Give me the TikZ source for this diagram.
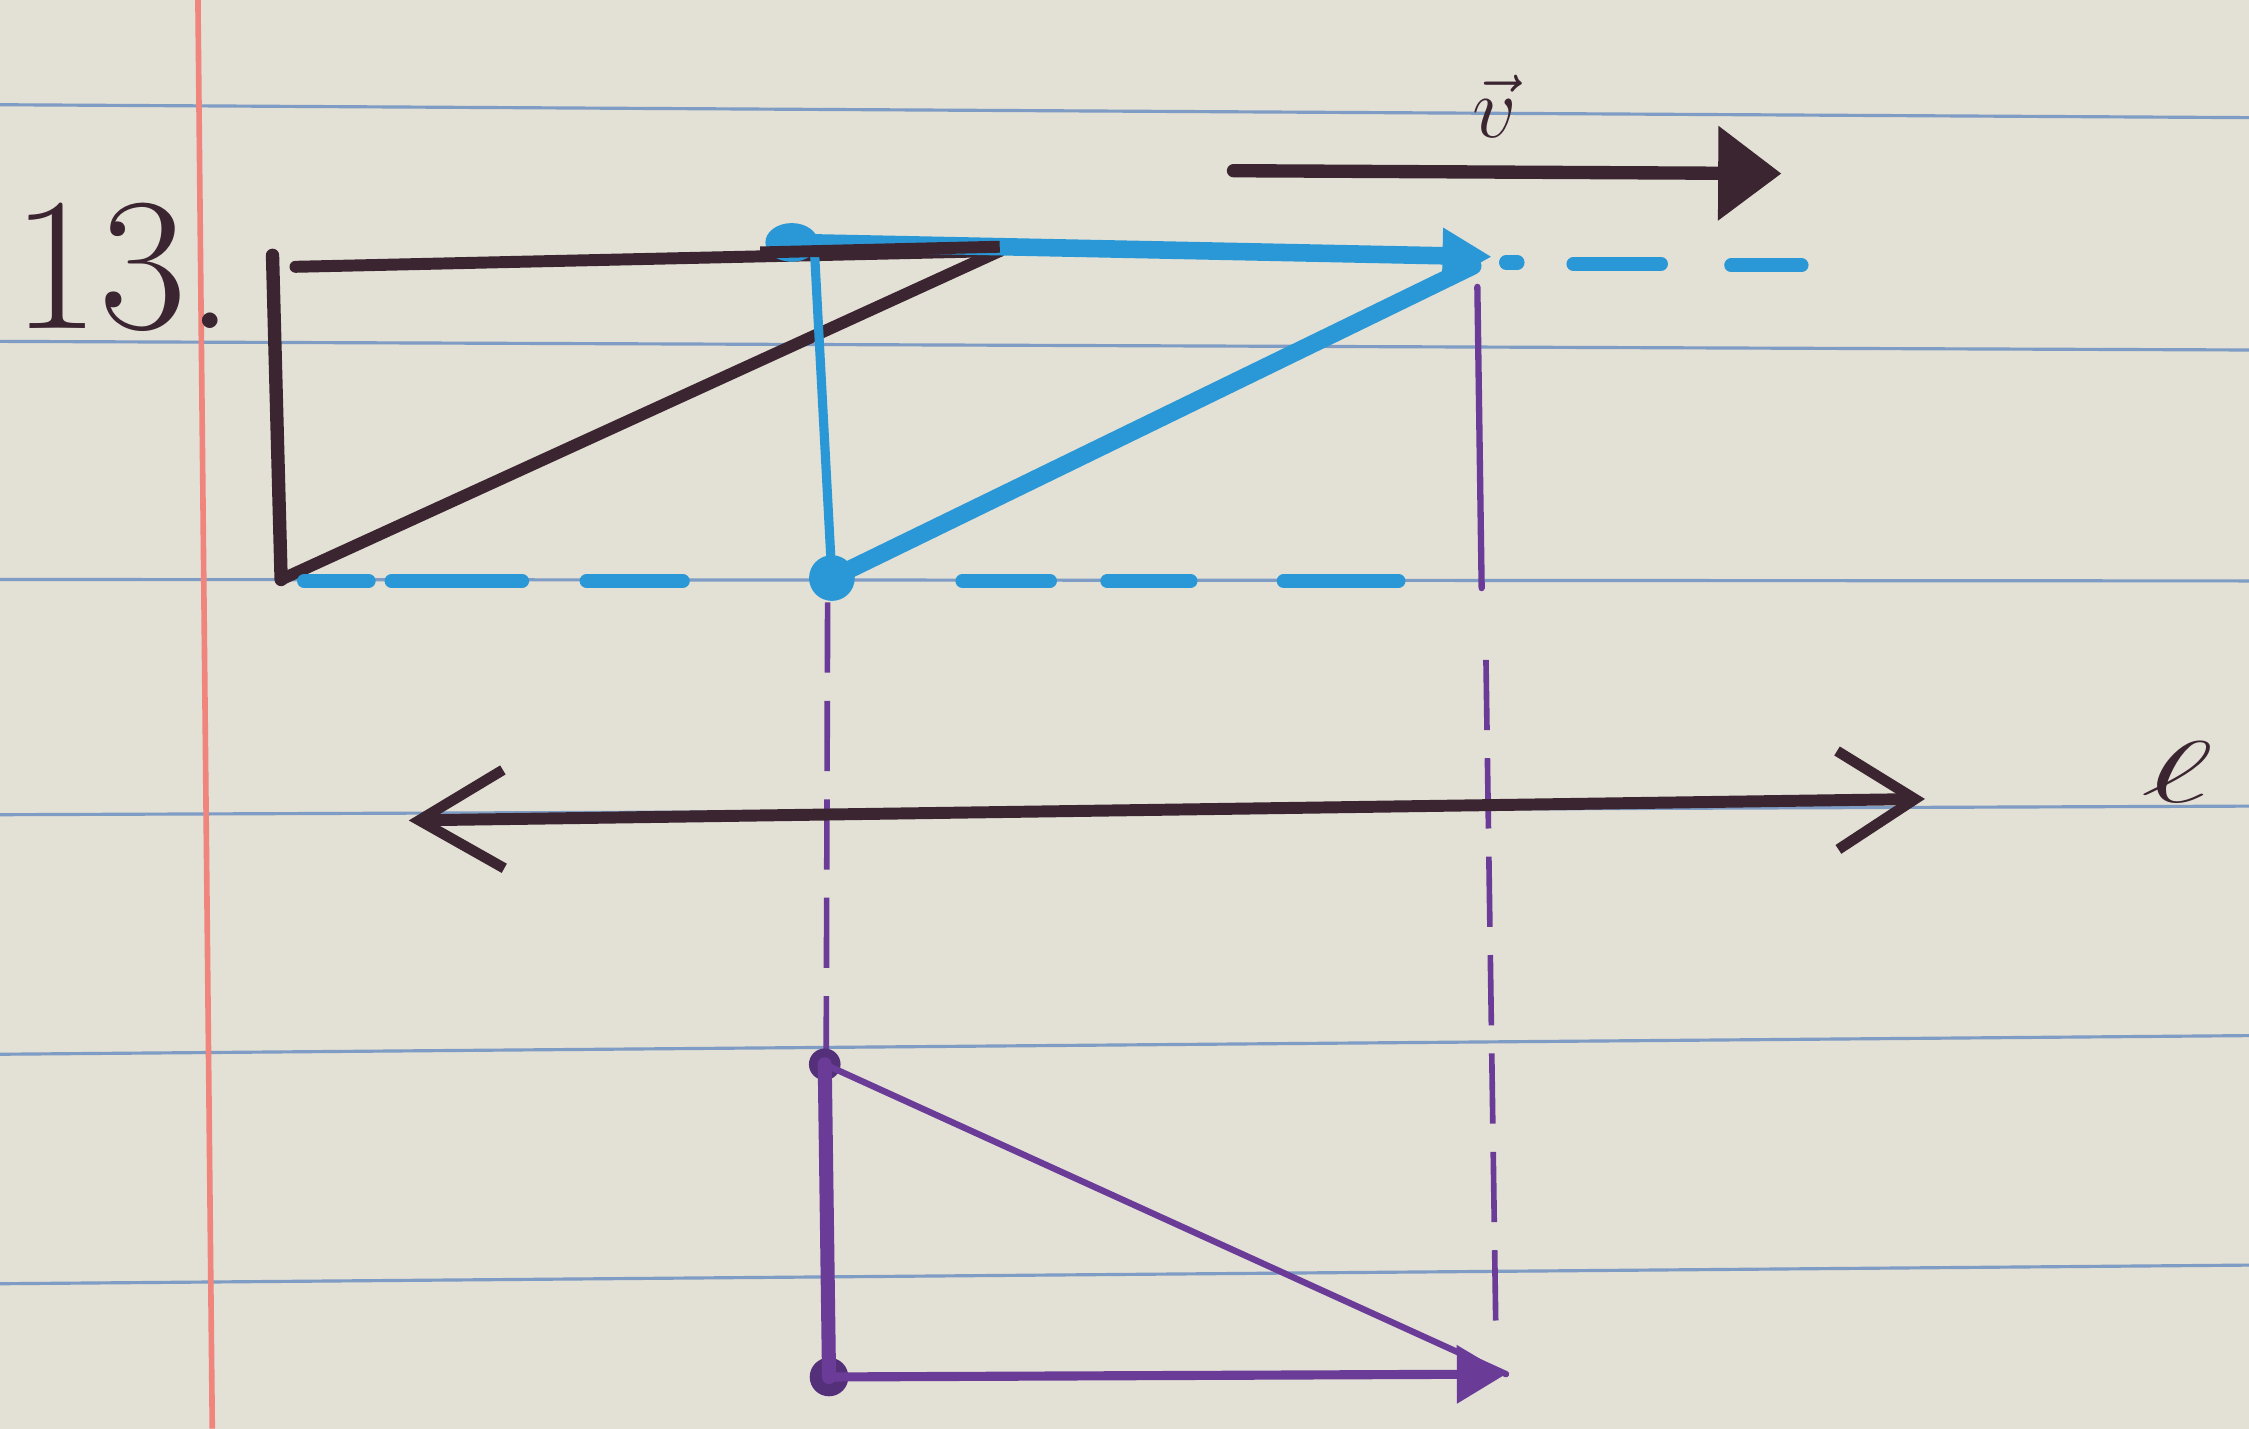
\documentclass[tikz,border=0pt]{standalone}
\usetikzlibrary{arrows.meta,shapes.geometric}
\usepackage{graphicx}
\definecolor{paper}{HTML}{E3E0D6}
\definecolor{rule}{HTML}{7E9CC4}
\definecolor{margin}{HTML}{F0857E}
\definecolor{ink}{HTML}{3B2530}
\definecolor{bluemk}{HTML}{2A98D6}
\definecolor{purp}{HTML}{6A3C98}
\tikzset{
  ruled/.style={rule, line width=0.9pt},
  inkline/.style={ink, line width=3.4pt, line cap=round},
  bluethick/.style={bluemk, line width=5pt, line cap=round},
  bluethin/.style={bluemk, line width=2.6pt, line cap=round},
  bluedash/.style={bluemk, line width=4pt, line cap=round},
  purpdash/.style={purp, line width=1.6pt, dash pattern=on 20pt off 8pt},
  purpthin/.style={purp, line width=1.8pt, line cap=round},
  purpthick/.style={purp, line width=4pt, line cap=round},
  dotb/.style={ellipse, fill=bluemk, inner sep=0pt, minimum width=15pt, minimum height=11pt},
  dotp/.style={circle, fill=purp!80!black, inner sep=0pt, minimum size=9pt},
  hand/.style={ink, inner sep=0pt}
}
\begin{document}
\begin{tikzpicture}[x=0.014343cm, y=-0.014343cm]
\fill[paper] (0,0) rectangle (1568,996);
\useasboundingbox (0,0) rectangle (1568,996);
% ruled lines
\draw[ruled] (0,73) -- (1568,82);
\draw[ruled] (0,238) -- (1568,244);
\draw[ruled] (0,404) -- (1568,405);
\draw[ruled] (0,568) -- (1568,562);
\draw[ruled] (0,735) -- (1568,722);
\draw[ruled] (0,895) -- (1568,882);
\draw[margin, line width=1.6pt] (138,0) -- (148,996);

% label 13.
\node[hand, font=\fontsize{54}{60}\selectfont] (num) at (86,186) {13.};

% black triangle
\coordinate (A) at (190,178);
\coordinate (A2) at (206,186);
\coordinate (B) at (196,404);
\coordinate (C) at (697,175);
\draw[inkline, line width=3.8pt] (A) -- (B);
\draw[inkline] (A2) -- (C);
\draw[inkline] (B) -- (C);

% blue dashed lines (hand-drawn dashes)
\foreach \a/\b in {212/257, 273/364, 409/476, 671/732, 772/830, 895/975}
  \draw[bluedash] (\a,405) -- (\b,405);
\draw[bluedash] (1050,183) -- (1058,183);
\draw[bluedash] (1097,184) -- (1158,184);
\draw[bluedash] (1207,185) -- (1256,185);

% purple projection lines
\coordinate (F1) at (1030,200);
\coordinate (F2) at (1033,410);
\coordinate (F3) at (1036,460);
\coordinate (F4) at (1043,935);
\draw[purpthin] (F1) -- (F2);
\draw[purpdash] (F3) -- (F4);
\coordinate (G1) at (577,420);
\coordinate (G2) at (576,738);
\draw[purpdash] (G1) -- (G2);

% blue triangle
\node[dotb] (P) at (552,169) {};
\node[dotb, minimum width=13pt, minimum height=13pt] (Q) at (580,403) {};
\coordinate (P2) at (568,178);
\coordinate (R) at (1040,179);
\draw[bluethin] (P2) -- (Q.center);
\draw[bluethick, -{Triangle[length=14pt,width=15pt]}] (P.center) -- (R);
\draw[bluethick, shorten >=6pt] (Q.center) -- (R);
\draw[ink, line width=3.4pt] (530,176) -- (697,172);

% vector v
\coordinate (V1) at (860,119);
\coordinate (V2) at (1242,121);
\draw[inkline, line width=3.8pt, -{Triangle[length=18pt,width=26pt]}] (V1) -- (V2);
\node[hand, font=\fontsize{58}{62}\selectfont] (vl) at (1042,74) {$\vec{v}$};

% line ell
\coordinate (L1) at (285,572);
\coordinate (L2) at (1342,557);
\draw[inkline, {Straight Barb[length=24pt,width=28pt,line width=3pt]}-{Straight Barb[length=22pt,width=28pt,line width=3pt]}] (L1) -- (L2);
\node[hand, font=\fontsize{34}{38}\selectfont] (ell) at (1518,538) {\scalebox{2}[1]{$\ell$}};

% purple triangle
\node[dotp] (S) at (575,742) {};
\node[dotp, minimum size=11pt] (T) at (578,960) {};
\coordinate (U) at (1050,958);
\draw[purpthick] (S.center) -- (T.center);
\draw[purpthin] (S.center) -- (U);
\draw[purpthin, line width=2.6pt, -{Triangle[length=14pt,width=16pt]}] (T.center) -- (U);
\end{tikzpicture}
\end{document}
